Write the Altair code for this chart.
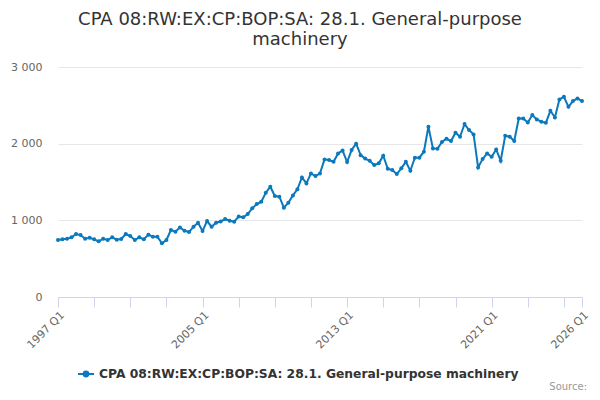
import altair as alt
import pandas as pd

# quarters 1997 Q1 .. 2026 Q1
years = list(range(1997, 2027))
quarters = [f"{y} Q{q}" for y in years for q in range(1, 5)][:117]

values = [
    743, 752, 760, 778, 821, 808, 760, 773,
    752, 726, 760, 743, 778, 747, 756, 821,
    795, 743, 778, 752, 813, 787, 787, 700,
    743, 873, 852, 908, 865, 847, 917, 969,
    860, 991, 917, 969, 985, 1017, 995, 982,
    1050, 1039, 1082, 1156, 1212, 1243, 1360, 1438,
    1317, 1308, 1165, 1230, 1325, 1404, 1560, 1482,
    1612, 1578, 1612, 1795, 1786, 1764, 1873, 1910,
    1760, 1917, 2000, 1850, 1805, 1777, 1721, 1743,
    1843, 1673, 1656, 1604, 1678, 1764, 1647, 1817,
    1817, 1895, 2221, 1938, 1934, 2021, 2064, 2034,
    2143, 2090, 2256, 2177, 2121, 1690, 1799, 1873,
    1830, 1925, 1777, 2103, 2090, 2034, 2329, 2329,
    2277, 2373, 2316, 2286, 2273, 2429, 2342, 2577,
    2612, 2481, 2555, 2590, 2555,
]

series_name = "CPA 08:RW:EX:CP:BOP:SA: 28.1. General-purpose machinery"
label_quarters = ["1997 Q1", "2005 Q1", "2013 Q1", "2021 Q1", "2026 Q1"]
tick_quarters = quarters[::8] + [quarters[-1]]

df = pd.DataFrame({"quarter": quarters, "value": values, "series": series_name})

blue = "#0c78bd"
font = "DejaVu Sans"

label_expr = (
    "indexof(" + str(label_quarters).replace("'", '"') + ", datum.value) >= 0 ? datum.value : ''"
)

line = alt.Chart(df).mark_line(
    strokeWidth=2, point=alt.OverlayMarkDef(size=16, filled=True, color=blue)
).encode(
    x=alt.X("quarter:O", sort=quarters,
            scale=alt.Scale(type="point", padding=0),
            axis=alt.Axis(title=None, values=tick_quarters, labelExpr=label_expr,
                          labelAngle=315, labelFont=font, labelFontSize=11,
                          labelColor="#666", domainColor="#ccd6eb", tickColor="#ccd6eb",
                          tickSize=10, labelPadding=2, grid=False)),
    y=alt.Y("value:Q", scale=alt.Scale(domain=[0, 3000], nice=False),
            axis=alt.Axis(title=None, values=[0, 1000, 2000, 3000],
                          labelExpr="replace(format(datum.value, ','), ',', ' ')",
                          labelFont=font, labelFontSize=11, labelColor="#666",
                          domain=False, ticks=False, labelPadding=16,
                          gridColor="#e6e6e6")),
    color=alt.Color("series:N", scale=alt.Scale(range=[blue]),
                    legend=alt.Legend(title=None, orient="none", legendX=19, legendY=298,
                                      symbolType="M-1,0H1M-0.3,0a0.3,0.3 0 1,0 0.6,0a0.3,0.3 0 1,0 -0.6,0",
                                      symbolSize=256, symbolStrokeWidth=2,
                                      symbolFillColor=blue, symbolStrokeColor=blue,
                                      labelFont=font, labelFontSize=12.3, labelFontWeight="bold",
                                      labelColor="#333", labelLimit=600)),
)

source = alt.Chart(pd.DataFrame({"t": ["Source:"]})).mark_text(
    align="right", baseline="middle", font=font, fontSize=10, color="#999"
).encode(text="t:N", x=alt.value(529), y=alt.value(320))

chart = alt.layer(line, source).properties(
    width=524,
    height=230,
    padding={"left": 50, "top": 59, "right": 10, "bottom": 95},
    autosize=alt.AutoSizeParams(type="none"),
    title=alt.TitleParams(
        ["CPA 08:RW:EX:CP:BOP:SA: 28.1. General-purpose", "machinery"],
        font=font, fontSize=18, fontWeight="normal", color="#333",
        anchor="middle", dx=-20, offset=12, lineHeight=20,
    ),
).configure_view(stroke=None)

chart.save("out.html", embed_options={"renderer": "svg", "actions": False})
